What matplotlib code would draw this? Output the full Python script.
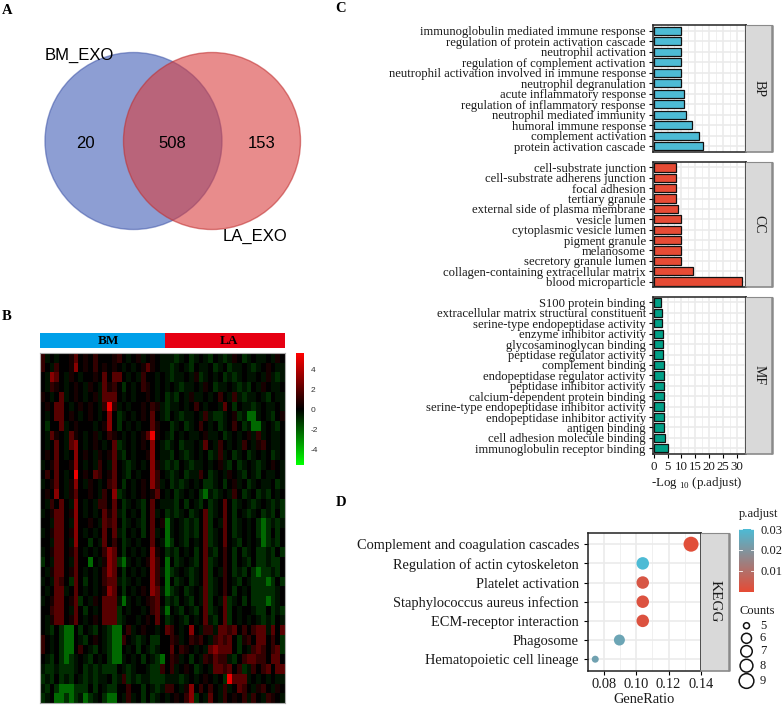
import numpy as np
import matplotlib
matplotlib.use("Agg")
import matplotlib.pyplot as plt
from matplotlib.colors import LinearSegmentedColormap
from matplotlib.patches import Circle, Rectangle

W, H = 783, 709
SERIF = "Liberation Serif"
plt.rcParams["font.family"] = SERIF
plt.rcParams["axes.unicode_minus"] = False

venn_names = ["BM_EXO", "LA_EXO"]
venn_counts = [20, 508, 153]

bp_terms = ["immunoglobulin mediated immune response", "regulation of protein activation cascade",
            "neutrophil activation", "regulation of complement activation",
            "neutrophil activation involved in immune response", "neutrophil degranulation",
            "acute inflammatory response", "regulation of inflammatory response",
            "neutrophil mediated immunity", "humoral immune response",
            "complement activation", "protein activation cascade"]
bp_vals = [10.0, 10.0, 10.0, 10.0, 10.0, 10.0, 10.9, 11.0, 11.7, 13.7, 16.3, 17.7]
cc_terms = ["cell-substrate junction", "cell-substrate adherens junction", "focal adhesion",
            "tertiary granule", "external side of plasma membrane", "vesicle lumen",
            "cytoplasmic vesicle lumen", "pigment granule", "melanosome",
            "secretory granule lumen", "collagen-containing extracellular matrix", "blood microparticle"]
cc_vals = [7.9, 8.0, 8.0, 8.0, 8.9, 10.0, 10.0, 10.0, 10.0, 10.0, 14.4, 31.8]
mf_terms = ["S100 protein binding", "extracellular matrix structural constituent",
            "serine-type endopeptidase activity", "enzyme inhibitor activity",
            "glycosaminoglycan binding", "peptidase regulator activity", "complement binding",
            "endopeptidase regulator activity", "peptidase inhibitor activity",
            "calcium-dependent protein binding", "serine-type endopeptidase inhibitor activity",
            "endopeptidase inhibitor activity", "antigen binding", "cell adhesion molecule binding",
            "immunoglobulin receptor binding"]
mf_vals = [2.8, 2.9, 2.9, 3.2, 3.4, 3.5, 3.6, 3.9, 3.9, 3.9, 3.9, 3.9, 3.9, 4.0, 5.0]

kegg_terms = ["Complement and coagulation cascades", "Regulation of actin cytoskeleton",
              "Platelet activation", "Staphylococcus aureus infection", "ECM-receptor interaction",
              "Phagosome", "Hematopoietic cell lineage"]
kegg_ratio = [0.134, 0.104, 0.104, 0.104, 0.104, 0.0895, 0.0745]
kegg_padj = [0.001, 0.030, 0.003, 0.002, 0.002, 0.024, 0.023]
kegg_diam = [15.0, 12.5, 12.5, 12.5, 12.5, 11.0, 7.0]
count_labels = [5, 6, 7, 8, 9]
count_diam = [6.0, 10.0, 11.5, 12.8, 14.7]

# heatmap cells, coded: G g - . + r m R X  (26 BM columns | 25 LA columns)
heat_code = {"G": -2.3, "g": -1.0, "-": -0.4, ".": 0.0, "+": 0.5, "r": 1.1, "m": 1.9, "R": 3.0, "X": 5.2}
heat_rows = [
    "r-.-..+m.+.r...+r.-.+-.+.-|--g-.g-.-g.-g-+.g-.--.-+.-",
    "r.-r..+R.+.r.+.+.-.-.+m+.-|-g-.-g.--.g-.g--.-g-.+.--.",
    ".-Rm.-+.-..+.m.mm.-.-r..-.|-g--.-+g-.-.g-g-.--.-+-g-.",
    ".-r+.-.+.-+.-m+r.g.-.r+.-.|-.-g--.-+.g--.-g-g.-+.--.-",
    "+.-.m-.+.-.+-mmm.-.-..+.-.|g-g.-+--.-.r.-r-g--.-g.--.",
    ".+.mm.-.+.+.-rXr-.-..+.r+-|g--.-.r.-..-m.g.--g-.--.-g",
    ".-.mm.+.-.+.-.R.g-.-.+.m.-|g.-g--.-r-gg-.+g-GG-.-g.+-",
    ".g..m-.+...-.+R.g.-.-..m+.|.g-.g-.r.-.g-.r.g-GG-.-g.+",
    ".-m+.-m+.-.+-.r+.-.-.+mX+.|-g.-.--.+--.g-.-.+-r-.--.-",
    ".-.m.-mR.-.+.-.mg-.-.+.R.-|g-.g--.-m.-r.-.-r.-+r.--.-",
    ".+.m.-.R.+.-+.+m-g.-..+R.-|-g.-g-.-.g-r-.g-.g-.-.g-.-",
    "-.+m..+R.-.-r.-m.-g-.-.R+-|g-g.-g--.-.+-g.g-.-g-.+.-g",
    ".r.m.-.X.+.mr.+m.-g.-..Rr.|-g-.g--r.g-.-+.-g.-g.--.-.",
    "-.+m.-+R.-+.-.rm.g.-.+.Rr-|.g-g-.-.gg-.g.+-.g-.--.g-.",
    ".+.R.-+m..+.-r.Rg-.-.+.+m.|-.g-.-.gG-g-.-r.g-.g-g.-.-",
    ".-r.m.-R.-.-rr.m.g-.-g.m.-|--g.g.-g.g-.m.g-.-g-.-g-g-",
    "-.+mm.+R.-.-.m+m-g.-.g.m-.|g-g-.g-.mg-.m.g.-g-.g-g.g-",
    "..-mm.-R..+.-mrm.g-.-g.m.+|G-.-g-g.mg.-m.g-.-.gGg-g-.",
    "-.+mm.+R.-.-.m.m-g.-.g.m-.|G-.-g-g.mg-.m.g-.-.gGg.g.-",
    "..-mm.-R..g.-m.r.g-.-..m.-|Gg.-g.-.mg-.m.-g.-.-Gg-g.-",
    "-.+mm.+m.-.-.rRm.g.-.-.R+.|g-g.-.g.m-g.r.g.g-.gg-g.g-",
    "g.-mm.-m..G.-+RmgG-.-.+Rr.|G.g-.-g.mg-.r.g.-g.gg-gg.-",
    ".-+mm.+m.-.-.rRm.g.-.-.Rr-|Gg-.-g-.mg.-r.g-g.gGgg-g.-",
    "-.-mr.gm.g.-.rmm-g-.-..Rr.|G.g-.g-.mg-.r.-g.-gggGg.g.",
    ".-.mm-.m.-.-.+Rm.g.-.+.Rm-|Gg-.g-.-mg-.r.g.-.ggggg-.-",
    "-.+mm.+mg.-+.mmm-G-.-.+rm.|g-g.-g.-mg.-mg-.g.gggGg-.g",
    "..rmm.-m.g.-.mmmg.-..-.rm-|G.-g.-g.mg-.mg.-..-gg.g-gg",
    ".-+mm.+m.-.+.mmmg-..-.+.m.|g-.-g.-.m-g.mg.-.-.-g-g.-g",
    ".-g.gGG.g.-g.-gGG.r-.+..-.-|mr.-.R.-rr-mmrm.r.rmm-m.mr",
    "r.-.gGG.-g.+.-gGGr.-g-.gg.|.r+-.r+r.-rmrm.g+r.mm.r.gm",
    "r.-.gGG.r.-g.-gGG.-.g.-g-.|.m.r+.-.-mRmmm.g.-rmr.rmgm",
    ".-g.gGg-.-g.-.gGG-.-.g.-gG|.r+-.g.-r+mrr-g.rmmrr.mm.gr",
    "-gg-ggg-.g-g-ggg.-g-..-ggr|.r-.+.g-.-mmrm.rg-r.rm.mm.",
    "g-g.g-g.-g-g--.g-rg-g--ggg|---g-.-.+.-.gXmmm-.-.-.---",
    "-g.gGGGggg.g.-gg..r..g.-g-|rr.-+R.r.r.-r-.mr.-+r.-+.-",
    "g-.GGgGg-Gg-.gGG.-r-.g.g-.|-.+.rRg.-m.-r.+.r-r.-r+.-",
]
heat_matrix = np.array([[heat_code[c] for c in (r.split("|")[0].ljust(26, ".")[:26] + r.split("|")[1].ljust(25, ".")[:25])]
                        for r in heat_rows])

def axpx(x0, y0, x1, y1, **kw):
    return fig.add_axes([x0 / W, 1 - y1 / H, (x1 - x0) / W, (y1 - y0) / H], **kw)

fig = plt.figure(figsize=(W / 100, H / 100), dpi=100, facecolor="white")

ov = axpx(0, 0, W, H)
ov.set_xlim(0, W); ov.set_ylim(H, 0); ov.axis("off")
for s, x, y in [("A", 7, 10), ("B", 7, 316), ("C", 341, 8), ("D", 341, 502)]:
    ov.text(x, y, s, fontsize=10.5, fontweight="bold", ha="center", va="center")

ov.add_patch(Circle((133.5, 141), 88.5, fc="#2f4fb0", ec="#3f55a8", alpha=0.55, lw=1))
ov.add_patch(Circle((212, 141), 88.5, fc="#d93a3a", ec="#c03030", alpha=0.58, lw=1))
ARIAL = "Liberation Sans"
ov.text(79.5, 55, venn_names[0], fontsize=12, family=ARIAL, ha="center", va="center")
ov.text(255.5, 236, venn_names[1], fontsize=12, family=ARIAL, ha="center", va="center")
for v, x in zip(venn_counts, [85, 172, 262]):
    ov.text(x, 143, str(v), fontsize=12, family=ARIAL, ha="center", va="center")

# Panel B
ov.add_patch(Rectangle((40, 332.7), 125, 15.6, fc="#00a0e9", ec="none"))
ov.add_patch(Rectangle((165, 332.7), 119.5, 15.6, fc="#e60012", ec="none"))
ov.text(108, 341, "BM", fontsize=9.5, fontweight="bold", ha="center", va="center")
ov.text(229, 341, "LA", fontsize=9.5, fontweight="bold", ha="center", va="center")

hcmap = LinearSegmentedColormap.from_list("gkr", ["#00ff00", "#000000", "#ff0000"])
axh = axpx(40, 353, 284.5, 703)
axh.imshow(heat_matrix, cmap=hcmap, vmin=-5.6, vmax=5.6, aspect="auto", interpolation="nearest")
axh.set_xticks([]); axh.set_yticks([])
for s in axh.spines.values():
    s.set_color("#aaaaaa"); s.set_linewidth(0.8)

axc = axpx(296, 353, 304, 465)
axc.imshow(np.linspace(5.6, -5.6, 200)[:, None], cmap=hcmap, vmin=-5.6, vmax=5.6, aspect="auto",
           extent=[0, 1, -5.6, 5.6])
axc.set_xticks([])
axc.yaxis.tick_right()
axc.set_yticks([4, 2, 0, -2, -4])
axc.tick_params(axis="y", length=0, labelsize=6, pad=5, labelcolor="#333333")
for t in axc.get_yticklabels():
    t.set_family(ARIAL)
for s in axc.spines.values():
    s.set_visible(False)

# Panel C
C_TXT = "#1a1a1a"
def style(ax, strip, x0, y0, x1, y1, sw, fs):
    ax.set_axisbelow(True)
    ax.grid(True, which="major", color="#ebebeb", lw=1.2)
    ax.grid(True, which="minor", axis="x", color="#f0f0f0", lw=0.7)
    for s in ax.spines.values():
        s.set_linewidth(1.1); s.set_color("#222222")
    ov.add_patch(Rectangle((x1, y0), sw, y1 - y0, fc="#d9d9d9", ec="none"))
    ov.plot([x1 + sw, x1 + sw], [y0, y1], color="#8a8a8a", lw=1.8, solid_capstyle="butt")
    ov.plot([x1, x1 + sw], [y0, y0], color="#8a8a8a", lw=0.8)
    ov.plot([x1, x1 + sw], [y1, y1], color="#8a8a8a", lw=1.2)
    ov.text(x1 + sw / 2, (y0 + y1) / 2, strip, rotation=-90, fontsize=fs, ha="center", va="center", color="#1a1a1a")

panels = [(bp_terms, bp_vals, "#4dbbd5", "BP", 25, 152), (cc_terms, cc_vals, "#e64b35", "CC", 161.7, 287.3),
          (mf_terms, mf_vals, "#00a087", "MF", 296.7, 454)]
for terms, vals, col, name, y0, y1 in panels:
    ax = axpx(652.7, y0, 746, y1)
    y = np.arange(len(terms))
    ax.barh(y, vals, height=0.8, color=col, edgecolor="#111111", linewidth=0.9)
    ax.set_ylim(len(terms) - 0.45, -0.55)
    ax.set_xlim(-0.36, 33.4)
    ax.set_yticks(y, terms, fontsize=9.1, color=C_TXT)
    ax.set_xticks([0, 5, 10, 15, 20, 25, 30])
    ax.set_xticks([2.5, 7.5, 12.5, 17.5, 22.5, 27.5, 32.5], minor=True)
    ax.tick_params(axis="y", length=3, width=0.8, pad=2)
    ax.tick_params(axis="x", which="minor", length=0)
    style(ax, name, 652.7, y0, 746, y1, 25.5, 10)
    if name != "MF":
        ax.tick_params(axis="x", which="major", length=0, labelbottom=False)
    else:
        ax.tick_params(axis="x", which="major", length=3, width=0.8, labelsize=9.3, pad=2)
        ax.set_xticklabels(["0", "5", "10", "15", "20", "25", "30"], color=C_TXT)
ov.text(697, 483, "-Log $_{\\mathregular{10}}$ (p.adjust)", fontsize=9.3, ha="center", va="center", color=C_TXT)

# Panel D
pcmap = LinearSegmentedColormap.from_list("padj", ["#e64b35", "#4dbbd5"])
axd = axpx(588, 532.7, 700.7, 670.7)
yd = np.arange(len(kegg_terms))
axd.scatter(kegg_ratio, yd, s=[(d * 0.72) ** 2 for d in kegg_diam], c=kegg_padj, cmap=pcmap, vmin=0, vmax=0.03,
            linewidths=0, zorder=3, clip_on=False)
axd.set_xlim(0.0717, 0.14)
axd.set_ylim(6.6, -0.6)
axd.set_yticks(yd, kegg_terms, fontsize=10.4, color=C_TXT)
axd.set_xticks([0.08, 0.10, 0.12, 0.14], ["0.08", "0.10", "0.12", "0.14"], fontsize=10.4, color=C_TXT)
axd.set_xticks([0.07, 0.09, 0.11, 0.13], minor=True)
axd.tick_params(axis="y", which="major", length=3, width=0.8, pad=3.5)
axd.tick_params(axis="x", which="major", length=3, width=0.8, pad=2.5)
axd.tick_params(axis="x", which="minor", length=0)
style(axd, "KEGG", 588, 532.7, 700.7, 670.7, 28.3, 11)
axd.set_xlabel("GeneRatio", fontsize=10.4, labelpad=1, color=C_TXT)

axp = axpx(739, 529, 754, 591.7)
axp.imshow(np.linspace(0.03, 0, 200)[:, None], cmap=pcmap, vmin=0, vmax=0.03, aspect="auto", extent=[0, 1, 0, 0.03])
axp.set_xticks([])
axp.yaxis.tick_right()
axp.set_yticks([0.01, 0.02, 0.03], ["0.01", "0.02", "0.03"], fontsize=9, color=C_TXT)
axp.tick_params(axis="y", length=0, pad=5)
for v in [0.01, 0.02, 0.03]:
    axp.plot([0, 0.2], [v, v], color="white", lw=0.6)
    axp.plot([0.8, 1], [v, v], color="white", lw=0.6)
axp.set_xlim(0, 1); axp.set_ylim(0, 0.03)
for s in axp.spines.values():
    s.set_visible(False)
ov.text(759, 514, "p.adjust", fontsize=9, ha="center", va="center", color=C_TXT)
ov.text(757, 611, "Counts", fontsize=9, ha="center", va="center", color=C_TXT)
for lab, d, y in zip(count_labels, count_diam, [625.7, 638.3, 651.3, 665.7, 681]):
    ov.add_patch(Circle((746.5, y), d / 2, fc="white", ec="#111111", lw=1.1))
    ov.text(763, y, str(lab), fontsize=9, ha="center", va="center", color=C_TXT)

ov.set_zorder(5); ov.patch.set_alpha(0)
ov.set_xlim(0, W); ov.set_ylim(H, 0)
fig.savefig("out.png", dpi=100)
